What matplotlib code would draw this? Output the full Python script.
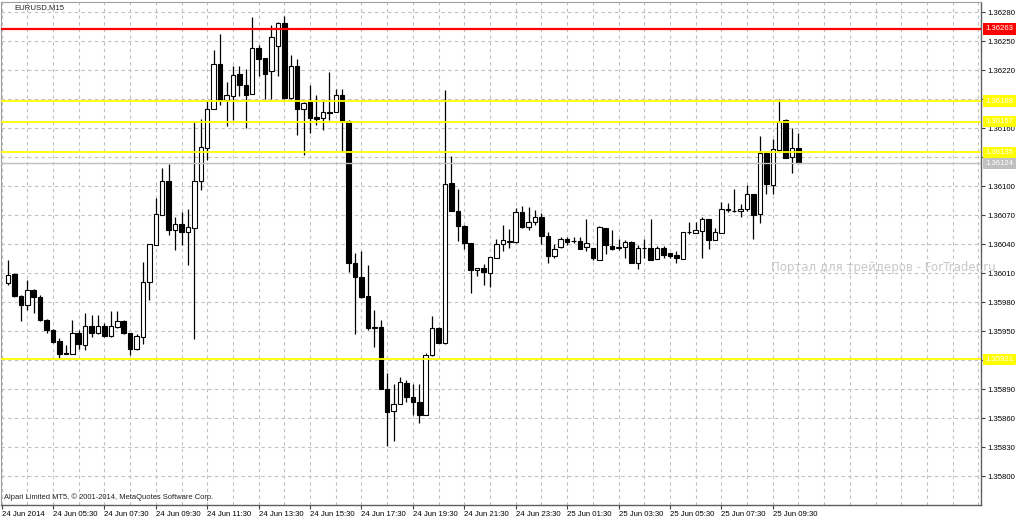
import numpy as np
import matplotlib
matplotlib.use('Agg')
import matplotlib.pyplot as plt
from matplotlib.transforms import blended_transform_factory

# EURUSD M15, 24 Jun 2014 03:45 .. 25 Jun 2014 10:30 (bar index 0..123)
opens = [1.36000, 1.36009, 1.35987, 1.35977, 1.35993, 1.35985, 1.35962, 1.35951, 1.35940, 1.35928,
         1.35927, 1.35948, 1.35936, 1.35956, 1.35948, 1.35956, 1.35945, 1.35954, 1.35961, 1.35948,
         1.35932, 1.35944, 1.36001, 1.36039, 1.36070, 1.36106, 1.36055, 1.36061, 1.36053, 1.36057,
         1.36106, 1.36140, 1.36180, 1.36227, 1.36189, 1.36193, 1.36216, 1.36205, 1.36196, 1.36243,
         1.36233, 1.36219, 1.36245, 1.36269, 1.36191, 1.36224, 1.36180, 1.36187, 1.36172, 1.36171,
         1.36177, 1.36177, 1.36194, 1.36168, 1.36021, 1.36006, 1.35987, 1.35953, 1.35954, 1.35890,
         1.35868, 1.35875, 1.35897, 1.35882, 1.35877, 1.35863, 1.35925, 1.35953, 1.35938, 1.36103,
         1.36074, 1.36059, 1.36041, 1.36013, 1.36015, 1.36010, 1.36026, 1.36040, 1.36043, 1.36042,
         1.36073, 1.36058, 1.36063, 1.36068, 1.36049, 1.36028, 1.36037, 1.36045, 1.36043, 1.36043,
         1.36037, 1.36036, 1.36024, 1.36057, 1.36038, 1.36036, 1.36037, 1.36042, 1.36021, 1.36036,
         1.36036, 1.36025, 1.36036, 1.36031, 1.36029, 1.36025, 1.36053, 1.36052, 1.36054, 1.36066,
         1.36044, 1.36052, 1.36077, 1.36074, 1.36074, 1.36077, 1.36092, 1.36071, 1.36134, 1.36101,
         1.36138, 1.36169, 1.36130, 1.36140]
highs = [1.36024, 1.36010, 1.35988, 1.36003, 1.35994, 1.35988, 1.35963, 1.35952, 1.35943, 1.35936,
         1.35962, 1.35951, 1.35969, 1.35967, 1.35967, 1.35959, 1.35971, 1.35971, 1.35962, 1.35948,
         1.35947, 1.36022, 1.36040, 1.36088, 1.36119, 1.36123, 1.36068, 1.36073, 1.36077, 1.36167,
         1.36170, 1.36188, 1.36241, 1.36258, 1.36208, 1.36225, 1.36224, 1.36221, 1.36275, 1.36246,
         1.36233, 1.36267, 1.36270, 1.36276, 1.36236, 1.36232, 1.36187, 1.36205, 1.36194, 1.36188,
         1.36218, 1.36201, 1.36201, 1.36169, 1.36031, 1.36033, 1.36019, 1.35972, 1.35962, 1.35907,
         1.35895, 1.35903, 1.35900, 1.35896, 1.35896, 1.35928, 1.35966, 1.35954, 1.36200, 1.36131,
         1.36097, 1.36060, 1.36041, 1.36016, 1.36020, 1.36027, 1.36045, 1.36060, 1.36056, 1.36078,
         1.36080, 1.36079, 1.36076, 1.36072, 1.36053, 1.36040, 1.36048, 1.36048, 1.36048, 1.36048,
         1.36066, 1.36036, 1.36059, 1.36057, 1.36055, 1.36046, 1.36044, 1.36043, 1.36039, 1.36046,
         1.36066, 1.36038, 1.36038, 1.36031, 1.36033, 1.36053, 1.36063, 1.36063, 1.36068, 1.36066,
         1.36057, 1.36084, 1.36083, 1.36097, 1.36082, 1.36101, 1.36092, 1.36152, 1.36134, 1.36149,
         1.36190, 1.36170, 1.36160, 1.36155]
lows = [1.35998, 1.35986, 1.35961, 1.35972, 1.35969, 1.35961, 1.35948, 1.35938, 1.35922, 1.35927,
        1.35927, 1.35932, 1.35931, 1.35944, 1.35947, 1.35944, 1.35944, 1.35953, 1.35947, 1.35926,
        1.35931, 1.35937, 1.35982, 1.36039, 1.36070, 1.36050, 1.36034, 1.36039, 1.36019, 1.35942,
        1.36096, 1.36127, 1.36180, 1.36184, 1.36162, 1.36169, 1.36193, 1.36160, 1.36196, 1.36214,
        1.36190, 1.36190, 1.36214, 1.36190, 1.36190, 1.36153, 1.36132, 1.36155, 1.36163, 1.36158,
        1.36169, 1.36177, 1.36136, 1.36011, 1.35947, 1.35984, 1.35951, 1.35934, 1.35890, 1.35831,
        1.35836, 1.35875, 1.35877, 1.35863, 1.35855, 1.35863, 1.35924, 1.35938, 1.35937, 1.36074,
        1.36043, 1.36035, 1.35990, 1.36007, 1.35998, 1.35996, 1.36026, 1.36033, 1.36036, 1.36041,
        1.36057, 1.36055, 1.36060, 1.36040, 1.36021, 1.36026, 1.36036, 1.36039, 1.36041, 1.36035,
        1.36033, 1.36024, 1.36024, 1.36030, 1.36034, 1.36034, 1.36026, 1.36021, 1.36014, 1.36026,
        1.36024, 1.36025, 1.36026, 1.36026, 1.36021, 1.36025, 1.36051, 1.36052, 1.36026, 1.36035,
        1.36044, 1.36052, 1.36073, 1.36073, 1.36068, 1.36074, 1.36046, 1.36062, 1.36092, 1.36092,
        1.36137, 1.36129, 1.36114, 1.36124]
closes = [1.36008, 1.35987, 1.35977, 1.35993, 1.35985, 1.35962, 1.35951, 1.35939, 1.35927, 1.35927,
          1.35948, 1.35937, 1.35956, 1.35948, 1.35956, 1.35945, 1.35955, 1.35961, 1.35948, 1.35932,
          1.35945, 1.36001, 1.36040, 1.36071, 1.36105, 1.36055, 1.36061, 1.36053, 1.36058, 1.36106,
          1.36141, 1.36180, 1.36227, 1.36189, 1.36194, 1.36215, 1.36205, 1.36195, 1.36243, 1.36232,
          1.36216, 1.36254, 1.36269, 1.36191, 1.36224, 1.36180, 1.36186, 1.36171, 1.36170, 1.36177,
          1.36176, 1.36195, 1.36168, 1.36021, 1.36006, 1.35986, 1.35953, 1.35954, 1.35890, 1.35867,
          1.35875, 1.35898, 1.35882, 1.35877, 1.35863, 1.35926, 1.35953, 1.35938, 1.36102, 1.36074,
          1.36059, 1.36041, 1.36013, 1.36016, 1.36011, 1.36027, 1.36040, 1.36044, 1.36042, 1.36073,
          1.36058, 1.36063, 1.36068, 1.36049, 1.36028, 1.36035, 1.36045, 1.36042, 1.36043, 1.36035,
          1.36041, 1.36026, 1.36058, 1.36039, 1.36035, 1.36037, 1.36042, 1.36021, 1.36036, 1.36036,
          1.36024, 1.36036, 1.36029, 1.36028, 1.36026, 1.36053, 1.36053, 1.36055, 1.36066, 1.36044,
          1.36053, 1.36077, 1.36075, 1.36074, 1.36077, 1.36092, 1.36070, 1.36134, 1.36102, 1.36139,
          1.36167, 1.36129, 1.36140, 1.36124]

# time axis labels (every 8 bars, first one is the 03:30 slot just left of bar 0)
tick_bars = [-1, 7, 15, 23, 31, 39, 47, 55, 63, 71, 79, 87, 95, 103, 111, 119]
tick_labels = ['24 Jun 2014', '24 Jun 05:30', '24 Jun 07:30', '24 Jun 09:30', '24 Jun 11:30',
               '24 Jun 13:30', '24 Jun 15:30', '24 Jun 17:30', '24 Jun 19:30', '24 Jun 21:30',
               '24 Jun 23:30', '25 Jun 01:30', '25 Jun 03:30', '25 Jun 05:30', '25 Jun 07:30',
               '25 Jun 09:30']

red_level = 1.36263
yellow_levels = [1.36188, 1.36167, 1.36135, 1.35921]
bid = 1.36124

plt.rcParams['font.family'] = ['Liberation Sans', 'DejaVu Sans']

W, H = 1024, 522
fig = plt.figure(figsize=(W / 100, H / 100), dpi=100)
fig.patch.set_facecolor('white')
ax = fig.add_axes([1 / W, 1 - 505 / H, 980 / W, 503 / H])

o = np.array(opens); h = np.array(highs); l = np.array(lows); c = np.array(closes)
x = np.arange(len(o))

# grid
ytick_vals = np.round(np.arange(1.35800, 1.362801, 0.0003), 5)
for yv in ytick_vals:
    ax.axhline(yv, color='#c0c0c0', lw=0.8, ls=(0, (3, 3)), zorder=0)
for xv in range(-1, 152, 4):
    ax.axvline(xv, color='#c0c0c0', lw=0.8, ls=(0, (3, 3)), zorder=0)

# candles
up = c > o
body_lo = np.minimum(o, c)
body_h = np.maximum(np.abs(c - o), 0.000002)
ax.vlines(x, l, h, color='black', lw=0.9, zorder=2)
ax.bar(x, body_h, width=0.7, bottom=body_lo,
       color=np.where(up, 'white', 'black'), edgecolor='black', linewidth=0.8, zorder=3)

# levels
ax.axhline(bid, color='#c0c0c0', lw=1.0, zorder=4)
for yl in yellow_levels:
    ax.axhline(yl, color='#ffff00', lw=1.3, zorder=4)
ax.axhline(red_level, color='#ff0000', lw=1.6, zorder=4)

ax.set_xlim(-1.09, 151.4)
ax.set_ylim(1.357703, 1.362907)

ax.yaxis.tick_right()
ax.set_yticks(ytick_vals)
ax.set_yticklabels(['%.5f' % v for v in ytick_vals])
ax.set_xticks(tick_bars)
ax.set_xticklabels(tick_labels)
for lab in ax.get_xticklabels():
    lab.set_horizontalalignment('left')
ax.tick_params(axis='x', direction='out', length=3, pad=1, labelsize=5.6, color='#404040')
ax.tick_params(axis='y', direction='out', length=3, pad=1.5, labelsize=5.6, color='#404040')

for side in ['left', 'top']:
    ax.spines[side].set_color('#a0a0a0')
for side in ['right', 'bottom']:
    ax.spines[side].set_color('#606060')
    ax.spines[side].set_linewidth(1.0)

# price labels on the right scale
tr = blended_transform_factory(fig.transFigure, ax.transData)
box_x = 985.5 / W
def price_box(val, col):
    ax.text(box_x, val, '%.5f' % val, transform=tr, ha='left', va='center',
            fontsize=5.6, color='white', zorder=10, clip_on=False,
            bbox=dict(boxstyle='square,pad=0.3', fc=col, ec='none'))

price_box(bid, '#c0c0c0')
for yl in yellow_levels:
    price_box(yl, '#ffff00')
price_box(red_level, '#ff0000')

fig.text(14 / W, 1 - 8 / H, 'EURUSD,M15', fontsize=5.6, va='center', ha='left', color='#202020')
fig.text(4 / W, 1 - 497 / H, 'Alpari Limited MT5, \u00a9 2001-2014, MetaQuotes Software Corp.',
         fontsize=5.4, va='center', ha='left', color='#202020')
fig.text(771 / W, 1 - 268 / H, 'Портал для трейдеров - ForTrader.ru', fontsize=8.5,
         va='center', ha='left', color='#c8c8c8', family='DejaVu Sans', zorder=20)

fig.savefig('out.png', dpi=100, facecolor='white')
